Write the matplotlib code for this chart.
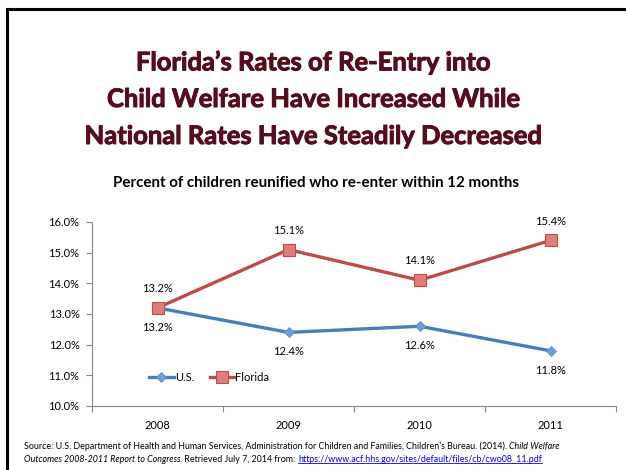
import matplotlib
matplotlib.use("Agg")
import matplotlib.pyplot as plt
import matplotlib.patheffects as pe
from matplotlib.lines import Line2D
from matplotlib.ticker import FixedLocator, PercentFormatter

plt.rcParams["font.family"] = ["Lato", "DejaVu Sans"]

years = ["2008", "2009", "2010", "2011"]
us = [13.2, 12.4, 12.6, 11.8]
florida = [13.2, 15.1, 14.1, 15.4]
y_ticks = [10, 11, 12, 13, 14, 15, 16]

US_BLUE = "#4a7ebb"
FL_RED = "#be4b48"
MAROON = "#560c1c"
AXIS_GRAY = "#868686"

fig = plt.figure(figsize=(6.26, 4.70), dpi=100)

# slide frame: left and top edges only
fig.add_artist(Line2D([7 / 626, 7 / 626], [0, 1 - 9 / 470], color="black", lw=2.2))
fig.add_artist(Line2D([7 / 626, 1], [1 - 9 / 470, 1 - 9 / 470], color="black", lw=2.2))

title_lines = ["Florida\u2019s Rates of Re-Entry into",
               "Child Welfare Have Increased While",
               "National Rates Have Steadily Decreased"]
for i, line in enumerate(title_lines):
    fig.text(0.5, 1 - (62 + 37 * i) / 470, line, ha="center", va="center",
             fontsize=18.4, fontweight="bold", color=MAROON,
             path_effects=[pe.withStroke(linewidth=0.7, foreground=MAROON)])

fig.text(0.505, 1 - 183 / 470,
         "Percent of children reunified who re-enter within 12 months",
         ha="center", va="center", fontsize=10.9, fontweight="bold", color="black")

ax = fig.add_axes([92 / 626, 1 - 406 / 470, (616 - 92) / 626, (406 - 222) / 470])
x = range(len(years))

ax.plot(x, us, color=US_BLUE, lw=2.4, marker="D", ms=5.5,
        mfc="#6d9fdc", mec="#5a8cc8", mew=0.6, label="U.S.", zorder=3)
ax.plot(x, florida, color=FL_RED, lw=2.4, marker="s", ms=8,
        mfc="#e07d7b", mec=FL_RED, mew=0.8, label="Florida", zorder=4)

for xi, v in zip(x, florida):
    ax.annotate(f"{v:.1f}%", (xi, v), xytext=(0, 10), textcoords="offset points",
                ha="center", va="bottom", fontsize=8)
for xi, v in zip(x, us):
    ax.annotate(f"{v:.1f}%", (xi, v), xytext=(0, -10), textcoords="offset points",
                ha="center", va="top", fontsize=8)

ax.set_xlim(-0.5, len(years) - 0.5)
ax.set_ylim(10, 16)
ax.yaxis.set_major_locator(FixedLocator(y_ticks))
ax.yaxis.set_major_formatter(PercentFormatter(decimals=1))
ax.set_xticks(list(x))
ax.set_xticklabels(years)
ax.xaxis.set_minor_locator(FixedLocator([i - 0.5 for i in range(len(years) + 1)]))
ax.tick_params(axis="x", which="major", length=0, pad=10, labelsize=8)
ax.tick_params(axis="x", which="minor", length=4, color=AXIS_GRAY, width=0.8)
ax.tick_params(axis="y", length=4, color=AXIS_GRAY, width=0.8, labelsize=8, pad=5)

for side in ("top", "right"):
    ax.spines[side].set_visible(False)
for side in ("left", "bottom"):
    ax.spines[side].set_color(AXIS_GRAY)
    ax.spines[side].set_linewidth(0.8)

ax.legend(loc="lower left", bbox_to_anchor=(0.09, 0.07), ncol=2, frameon=False,
          fontsize=8, handlelength=2.2, handletextpad=0.1, columnspacing=1.4)

# source note, built piece by piece so styles can change mid-line
src_lines = [
    [("Source: U.S. Department of Health and Human Services, Administration for Children and Families, Children\u2019s Bureau. (2014). ", "normal", "black", False),
     ("Child Welfare", "italic", "black", False)],
    [("Outcomes 2008-2011 Report to Congress", "italic", "black", False),
     (". Retrieved July 7, 2014 from: ", "normal", "black", False),
     ("https://www.acf.hhs.gov/sites/default/files/cb/cwo08_11.pdf", "normal", "#0000ee", True)],
]
renderer = fig.canvas.get_renderer()
for row, pieces in enumerate(src_lines):
    xpos = 24 / 626
    ypos = 1 - (446 + 13 * row) / 470
    for txt, style, color, underline in pieces:
        t = fig.text(xpos, ypos, txt, fontsize=6.4, style=style, color=color,
                     ha="left", va="center")
        bb = t.get_window_extent(renderer).transformed(fig.transFigure.inverted())
        if underline:
            fig.add_artist(Line2D([bb.x0, bb.x1], [bb.y0 + 0.002, bb.y0 + 0.002],
                                  color=color, lw=0.6))
        xpos = bb.x1

fig.savefig("out.png", dpi=100)
